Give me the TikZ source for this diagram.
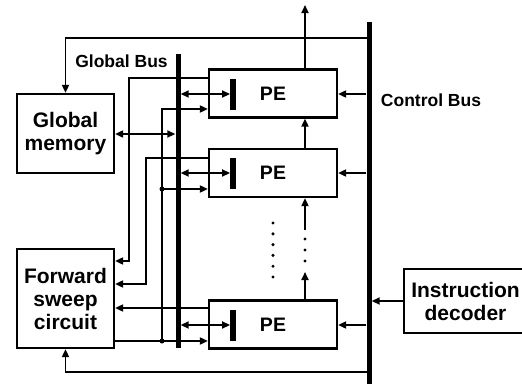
\documentclass[tikz,border=0pt]{standalone}
\usepackage{fontspec}
\setmainfont{Liberation Sans}
\usetikzlibrary{arrows.meta,calc}
\begin{document}
\begin{tikzpicture}[x=1pt,y=-1pt,
  box/.style={draw,line width=2.2pt,inner sep=0pt,align=center,font=\fontsize{21}{23}\selectfont\bfseries},
  pebox/.style={draw,line width=2.2pt,minimum width=128pt,minimum height=48pt,inner sep=0pt},
  pelabel/.style={inner sep=0pt,font=\fontsize{19.5}{21}\selectfont\bfseries},
  buslabel/.style={inner sep=0pt,anchor=base,font=\fontsize{17.5}{19}\selectfont\bfseries},
  bus/.style={fill=black,draw=none,minimum width=5pt,inner sep=0pt},
  bar/.style={fill=black,draw=none,minimum width=5.5pt,minimum height=31pt,inner sep=0pt},
  conn/.style={line width=1.7pt,-{Triangle[length=8pt,width=7pt]}},
  dconn/.style={line width=1.7pt,{Triangle[length=8pt,width=7pt]}-{Triangle[length=8pt,width=7pt]}},
  wire/.style={line width=1.7pt},
  dot/.style={circle,fill=black,draw=none,minimum size=5pt,inner sep=0pt},
  sdot/.style={circle,fill=black,draw=none,minimum size=3.4pt,inner sep=0pt}
]
\useasboundingbox (0,0) rectangle (522,383);

% boxes
\node[box,minimum width=97pt,minimum height=79pt] (gm) at (65.5,133.5) {Global\\memory};
\node[box,minimum width=97pt,minimum height=99pt] (fsc) at (65.5,298.5) {Forward\\sweep\\circuit};
\node[box,minimum width=123pt,minimum height=64pt] (id) at (465.5,301) {Instruction\\decoder};

\node[pebox] (pe1) at (273,93.5) {};
\node[pebox] (pe2) at (273,173) {};
\node[pebox] (pe3) at (273,324.5) {};
\node[pelabel] (l1) at (pe1) {PE};
\node[pelabel] (l2) at (pe2) {PE};
\node[pelabel] (l3) at (pe3) {PE};
\node[bar] (b1) at (233,94) {};
\node[bar] (b2) at (233,173) {};
\node[bar] (b3) at (233,325) {};

% buses
\node[bus,minimum height=294pt] (gbus) at (178,201) {};
\node[bus,minimum height=370pt] (cbus) at (369,207) {};
\node[buslabel] (gbl) at (121.5,67) {Global Bus};
\node[buslabel] (cbl) at (431,106) {Control Bus};

% bus <-> PE registers
\draw[dconn] (gbus.east |- b1) -- (b1.west);
\draw[dconn] (gbus.east |- b2) -- (b2.west);
\draw[dconn] (gbus.east |- b3) -- (b3.west);
\draw[dconn] (gm.east |- 0,134) -- (gbus.west |- 0,134);

% control bus -> PEs
\draw[conn] (cbus.west |- 0,94) -- (pe1.east |- 0,94);
\draw[conn] (cbus.west |- 0,173) -- (pe2.east |- 0,173);
\draw[conn] (cbus.west |- 0,325) -- (pe3.east |- 0,325);
\draw[conn] (id.west) -- (id.west -| cbus.east);

% feedback lines from control bus
\draw[conn] (cbus |- 0,38) -| (gm.north);
\draw[conn] (cbus |- 0,372) -| (fsc.south);

% PE chain
\coordinate (top) at (305,5);
\coordinate (d1) at (305,272);
\coordinate (d2) at (305,230);
\draw[conn] (pe1.north -| top) -- (top);
\draw[conn] (pe2.north -| top) -- (pe1.south -| top);
\draw[conn] (pe3.north -| top) -- (d1);
\draw[conn] (d2) -- (pe2.south -| top);
\foreach \y in {239,250,261} \node[sdot] at (305,\y) {};
\foreach \y in {223,233.8,244.6,255.4,266.2,277} \node[sdot] at (273,\y) {};

% PE outputs to forward sweep circuit
\draw[conn] (pe1.west |- 0,78) -| (129,261) -- (fsc.east |- 0,261);
\draw[conn] (pe2.west |- 0,158) -| (146,284) -- (fsc.east |- 0,284);
\draw[conn] (pe3.west |- 0,308) -- (fsc.east |- 0,308);

% forward sweep circuit outputs to PEs
\node[dot] (j1) at (162,341) {};
\node[dot] (j2) at (162,189) {};
\draw[conn] (fsc.east |- 0,341) -- (pe3.west |- 0,341);
\draw[wire] (j1.center) -- (j2.center);
\draw[conn] (j2.center) -- (pe2.west |- j2);
\draw[conn] (j2.center) -- (162,109) -- (pe1.west |- 0,109);
\end{tikzpicture}
\end{document}
